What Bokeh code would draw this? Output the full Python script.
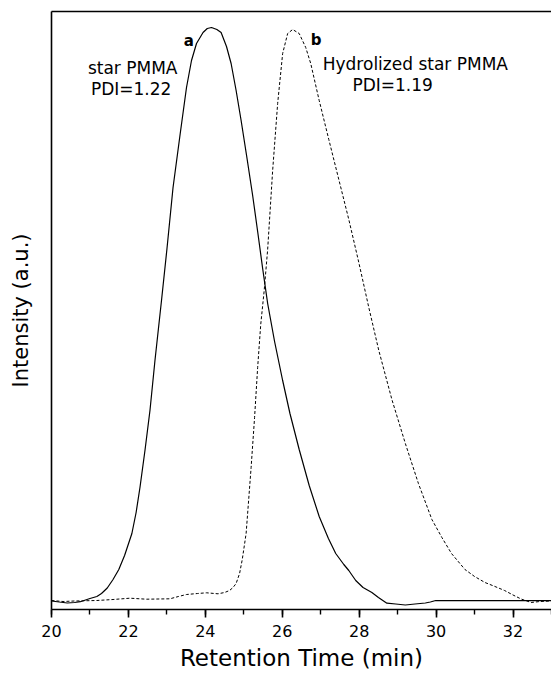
from bokeh.plotting import figure
from bokeh.models import Range1d, LinearAxis, FixedTicker, SingleIntervalTicker, Label
from bokeh.embed import file_html
from bokeh.resources import INLINE

# Curve a: star PMMA (solid)
a_time = [20.0, 20.2, 20.41, 20.6, 20.75, 21.0, 21.18, 21.3, 21.45, 21.6, 21.75, 21.9,
          22.09, 22.2, 22.3, 22.43, 22.56, 22.69, 22.86, 23.0, 23.16, 23.34, 23.51, 23.64,
          23.77, 23.94, 24.05, 24.16, 24.3, 24.41, 24.55, 24.67, 24.8, 24.93, 25.08, 25.23,
          25.36, 25.49, 25.62, 25.8, 26.01, 26.2, 26.44, 26.7, 26.96, 27.2, 27.39, 27.6,
          27.73, 27.91, 28.1, 28.33, 28.5, 28.72, 28.95, 29.2, 29.45, 29.72, 29.85, 29.99,
          30.1, 33.0]
a_int = [8.5, 7.5, 6.5, 7.0, 7.8, 11.0, 13.0, 16.0, 21.5, 30, 40, 54,
         76, 97, 122, 159, 199, 249, 309, 360, 422, 474, 522, 549,
         566, 577, 581, 582, 580, 577, 563, 546, 519, 489, 452, 414,
         378, 341, 306, 268, 229, 196, 160, 124, 93, 71, 56, 45,
         39, 29, 22, 17, 12, 6.3, 5.5, 4.5, 5.5, 6.5, 7.5, 9.0,
         8.8, 8.8]

# Curve b: hydrolized star PMMA (dashed)
b_time = [20.0, 20.3, 20.6, 21.18, 21.6, 22.04, 22.47, 23.08, 23.3, 23.51, 23.8, 24.03,
          24.33, 24.5, 24.63, 24.72, 24.8, 24.89, 24.96, 25.06, 25.19, 25.28, 25.36, 25.44,
          25.53, 25.62, 25.75, 25.88, 26.01, 26.14, 26.27, 26.44, 26.61, 26.74, 26.96, 27.21,
          27.47, 27.73, 27.99, 28.25, 28.51, 28.85, 29.2, 29.54, 29.89, 30.15, 30.4, 30.75,
          31.0, 31.27, 31.53, 31.78, 32.0, 32.21, 32.47, 32.7, 33.0]
b_int = [9, 8, 8.5, 9, 10, 11.3, 10.3, 10.7, 13, 15, 16, 16.7,
         15.7, 17, 19, 22, 26, 36, 50, 76, 142, 192, 242, 285,
         319, 360, 439, 506, 556, 576, 580, 576, 562, 546, 509, 470,
         430, 390, 347, 302, 259, 210, 166, 126, 90, 72, 56, 40,
         33, 27, 23, 19, 14.5, 10.5, 7, 8, 8.5]

x_ticks = [20, 22, 24, 26, 28, 30, 32]

FONT = "DejaVu Sans"

p = figure(frame_width=500, frame_height=598, output_backend="svg", toolbar_location=None,
           x_range=Range1d(20, 33), y_range=Range1d(0, 598),
           min_border_left=51, min_border_right=0, min_border_top=11, min_border_bottom=0,
           y_axis_location=None, x_axis_location=None)
p.outline_line_color = None
p.xgrid.visible = False
p.ygrid.visible = False
p.background_fill_color = "white"
p.border_fill_color = "white"

xaxis = LinearAxis(ticker=SingleIntervalTicker(interval=2, num_minor_ticks=2),
                   axis_label="Retention Time (min)")
xaxis.axis_line_width = 1.6
xaxis.major_tick_line_width = 1.6
xaxis.minor_tick_line_width = 1.4
xaxis.major_tick_in = 0
xaxis.major_tick_out = 8
xaxis.minor_tick_in = 0
xaxis.minor_tick_out = 5
xaxis.major_label_standoff = 7
xaxis.major_label_text_font = FONT
xaxis.major_label_text_font_size = "16px"
xaxis.major_label_text_color = "black"
xaxis.axis_label_standoff = 5
xaxis.axis_label_text_font = FONT
xaxis.axis_label_text_font_size = "23px"
xaxis.axis_label_text_font_style = "normal"
xaxis.axis_label_text_color = "black"
p.add_layout(xaxis, "below")

yaxis = LinearAxis(ticker=FixedTicker(ticks=[]), axis_label="Intensity (a.u.)")
yaxis.axis_line_width = 1.6
yaxis.major_tick_out = 0
yaxis.major_tick_in = 0
yaxis.minor_tick_out = 0
yaxis.minor_tick_in = 0
yaxis.major_label_text_font_size = "0px"
yaxis.major_label_standoff = 0
yaxis.axis_label_standoff = 19
yaxis.axis_label_text_font = FONT
yaxis.axis_label_text_font_size = "21px"
yaxis.axis_label_text_font_style = "normal"
yaxis.axis_label_text_color = "black"
p.add_layout(yaxis, "left")

top = LinearAxis(ticker=FixedTicker(ticks=[]))
top.axis_line_width = 1.6
top.major_tick_out = 0
top.major_tick_in = 0
top.minor_tick_out = 0
top.minor_tick_in = 0
top.major_label_text_font_size = "0px"
top.major_label_standoff = 0
p.add_layout(top, "above")

p.line(a_time, a_int, line_color="black", line_width=1.2)
p.line(b_time, b_int, line_color="black", line_width=1.0, line_dash="3 2")

def lab(x, y, text, bold=False, size="17px"):
    p.add_layout(Label(x=x, y=y, text=text, text_align="center", text_baseline="middle",
                       text_font=FONT, text_font_size=size, text_color="black",
                       text_font_style="bold" if bold else "normal"))

lab(23.57, 569, "a", bold=True, size="15px")
lab(22.11, 541.5, "star PMMA")
lab(22.07, 521, "PDI=1.22")
lab(26.88, 570, "b", bold=True, size="15px")
lab(29.46, 545.5, "Hydrolized star PMMA")
lab(28.87, 525, "PDI=1.19")

open("out.html", "w").write(file_html(p, INLINE))
